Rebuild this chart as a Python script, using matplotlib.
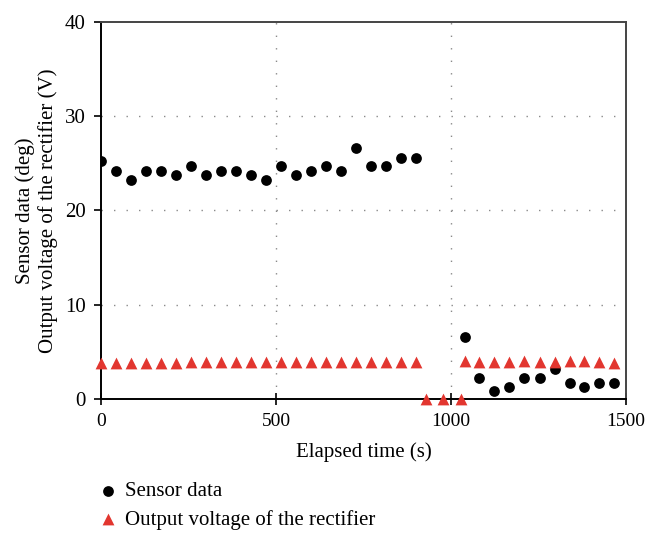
import numpy as np
import matplotlib
matplotlib.use("Agg")
from matplotlib import pyplot as plt

# time stamps (s)
time_on1 = [0, 43, 86, 129, 171, 214, 257, 300, 343, 386, 429, 471,
            514, 557, 600, 643, 686, 729, 771, 814, 857, 900]
time_off = [928, 978, 1028]
time_on2 = [1039, 1081, 1124, 1167, 1210, 1253, 1296, 1339, 1381, 1424, 1467]

# sensor data (deg)
sensor_on1 = [25.2, 24.2, 23.2, 24.2, 24.2, 23.7, 24.7, 23.7, 24.2, 24.2, 23.7,
              23.2, 24.7, 23.7, 24.2, 24.7, 24.2, 26.6, 24.7, 24.7, 25.6, 25.6]
sensor_on2 = [6.6, 2.2, 0.8, 1.2, 2.2, 2.2, 3.2, 1.7, 1.2, 1.7, 1.7]

# rectifier output (V)
volt_on1 = [3.8, 3.8, 3.8, 3.8, 3.8, 3.8, 3.9, 3.9, 3.9, 3.9, 3.9,
            3.9, 3.9, 3.9, 3.9, 3.9, 3.9, 3.9, 3.9, 3.9, 3.9, 3.9]
volt_off = [0.0, 0.0, 0.0]
volt_on2 = [4.0, 3.9, 3.9, 3.9, 4.0, 3.9, 3.9, 4.0, 4.0, 3.9, 3.8]

sensor_t = time_on1 + time_on2
sensor_v = sensor_on1 + sensor_on2
volt_t = time_on1 + time_off + time_on2
volt_v = volt_on1 + volt_off + volt_on2

plt.rcParams['font.family'] = ['Liberation Serif', 'DejaVu Serif']
plt.rcParams['font.size'] = 15

fig = plt.figure(figsize=(6.45, 5.35), dpi=100)
ax = fig.add_axes([0.1566, 0.2548, 0.8139, 0.7041])

ax.scatter(sensor_t, sensor_v, s=60, marker='o', color='black',
           label='Sensor data', zorder=3, linewidths=0)
ax.scatter(volt_t, volt_v, s=72, marker='^', color='#e2362f',
           label='Output voltage of the rectifier', zorder=3, linewidths=0,
           clip_on=False)

ax.set_xlim(0, 1500)
ax.set_ylim(0, 40)
ax.set_xticks([0, 500, 1000, 1500])
ax.set_yticks([0, 10, 20, 30, 40])

for x in [500, 1000]:
    ax.axvline(x, color='#8a8a8a', lw=1.0, ls=(0, (1, 8)), zorder=1)
for y in [10, 20, 30]:
    ax.axhline(y, color='#8a8a8a', lw=1.0, ls=(0, (1, 8)), zorder=1)

for side in ['left', 'bottom']:
    ax.spines[side].set_linewidth(1.4)
    ax.spines[side].set_color('black')
for side in ['top', 'right']:
    ax.spines[side].set_linewidth(1.4)
    ax.spines[side].set_color('#444444')

ax.tick_params(axis='y', direction='out', length=5, width=1.2, pad=6)
ax.tick_params(axis='x', direction='inout', length=8, width=1.2, pad=6,
               labelsize=14)

ax.set_xlabel('Elapsed time (s)', labelpad=9)
ax.set_ylabel('Sensor data (deg)\nOutput voltage of the rectifier (V)',
              labelpad=5, linespacing=1.2)

fig.legend(loc='upper left', bbox_to_anchor=(0.138, 0.115), frameon=False,
           handletextpad=0.35, labelspacing=0.4, handlelength=1.0,
           borderaxespad=0)

fig.savefig('out.png', dpi=100)
